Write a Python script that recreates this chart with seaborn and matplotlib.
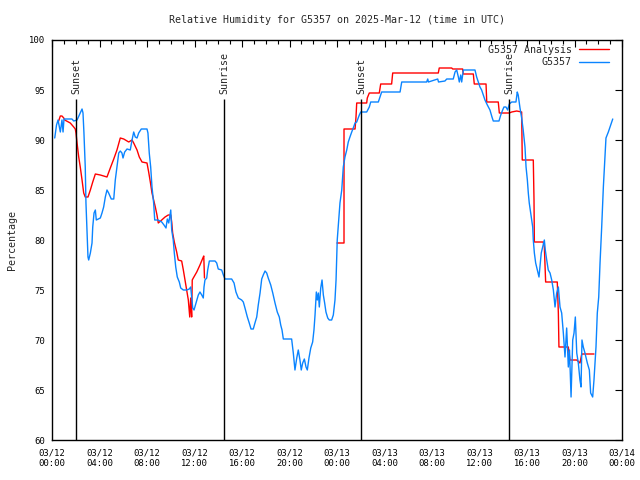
import numpy as np
import pandas as pd
import matplotlib
matplotlib.use("Agg")
import matplotlib.pyplot as plt
import seaborn as sns
from matplotlib.ticker import MultipleLocator

# --- данные (часы от 03/12 00:00 UTC, % влажности) ---
obs_hours = [0.23, 0.38, 0.51, 0.70, 0.84, 0.93, 1.01, 1.68, 1.83, 2.11, 2.38, 2.53, 2.61, 2.69,
             2.80, 2.86, 2.95, 3.03, 3.09, 3.23, 3.37, 3.43, 3.54, 3.65, 3.73, 4.07, 4.21, 4.35,
             4.49, 4.63, 4.77, 4.99, 5.20, 5.33, 5.47, 5.62, 5.75, 5.89, 5.98, 6.12, 6.32, 6.59,
             6.74, 6.88, 7.01, 7.16, 7.30, 7.52, 8.00, 8.08, 8.19, 8.31, 8.42, 8.56, 8.65, 8.93,
             9.24, 9.43, 9.60, 9.71, 9.83, 10.00, 10.08, 10.21, 10.30, 10.42, 10.55, 10.72, 10.84,
             11.06, 11.34, 11.56, 11.68, 11.76, 11.85, 11.96, 12.13, 12.32, 12.46, 12.61, 12.74,
             12.80, 12.88, 13.03, 13.11, 13.25, 13.73, 13.87, 14.00, 14.29, 14.43, 14.57, 15.13,
             15.33, 15.49, 15.69, 15.97, 16.11, 16.25, 16.45, 16.61, 16.76, 16.95, 17.09, 17.24,
             17.37, 17.52, 17.66, 17.79, 17.94, 18.08, 18.21, 18.42, 18.59, 18.78, 18.97, 19.14,
             19.26, 19.37, 19.48, 20.18, 20.32, 20.46, 20.61, 20.74, 20.88, 20.99, 21.11, 21.25,
             21.39, 21.50, 21.64, 21.79, 21.95, 22.06, 22.15, 22.26, 22.34, 22.43, 22.51, 22.63,
             22.74, 22.85, 22.96, 23.07, 23.22, 23.35, 23.55, 23.69, 23.83, 23.92, 23.97, 24.02,
             24.14, 24.25, 24.40, 24.53, 24.67, 24.82, 24.95, 25.09, 25.24, 25.37, 25.52, 25.66,
             25.88, 26.00, 26.50, 26.72, 26.84, 27.48, 27.62, 27.76, 29.31, 29.45, 31.55, 31.64,
             31.70, 32.48, 32.55, 33.09, 33.24, 33.79, 33.94, 34.08, 34.22, 34.30, 34.42, 34.50,
             34.64, 35.62, 35.76, 35.90, 36.04, 36.18, 36.32, 36.46, 36.66, 36.88, 37.05, 37.16,
             37.64, 37.79, 37.95, 38.06, 38.23, 38.37, 38.51, 38.71, 39.07, 39.18, 39.26, 39.41,
             39.55, 39.68, 39.83, 39.92, 40.03, 40.11, 40.19, 40.31, 40.40, 40.48, 40.53, 40.62,
             40.73, 40.87, 41.01, 41.09, 41.20, 41.32, 41.46, 41.54, 41.66, 41.79, 41.94, 42.08,
             42.22, 42.36, 42.50, 42.64, 42.78, 42.92, 43.06, 43.20, 43.34, 43.48, 43.58, 43.71,
             43.85, 43.96, 44.07, 44.19, 44.32, 44.46, 44.55, 44.63, 44.74, 44.88, 45.08, 45.25,
             45.36, 45.53, 45.64, 45.73, 45.81, 45.92, 46.04, 46.15, 46.29, 46.43, 46.57, 46.65,
             46.85, 46.99, 47.22]
obs_rh = [90.2, 91.5, 92.0, 90.8, 92.0, 90.8, 92.1, 92.1, 91.9, 92.0, 92.7, 93.1, 92.7, 90.7,
          87.3, 83.7, 80.7, 78.3, 78.0, 78.7, 79.7, 81.3, 82.7, 83.0, 82.0, 82.2, 82.7, 83.3,
          84.3, 85.0, 84.7, 84.1, 84.1, 86.0, 87.3, 88.7, 88.9, 88.7, 88.2, 88.8, 89.1, 89.0,
          90.0, 90.8, 90.3, 90.2, 90.7, 91.1, 91.1, 90.7, 88.7, 87.3, 85.3, 83.7, 82.0, 82.0,
          81.8, 81.5, 81.2, 82.1, 81.7, 83.0, 81.0, 80.0, 78.7, 77.3, 76.3, 75.8, 75.2,
          75.0, 75.0, 75.1, 75.3, 74.3, 73.2, 73.0, 73.7, 74.5, 74.8, 74.5, 74.2,
          75.3, 76.0, 76.2, 77.0, 77.9, 77.9, 77.7, 77.1, 77.0, 76.5, 76.1, 76.1,
          75.7, 74.8, 74.2, 74.0, 73.8, 73.2, 72.3, 71.7, 71.1, 71.1, 71.7, 72.3,
          73.5, 74.7, 76.1, 76.5, 76.9, 76.7, 76.2, 75.5, 74.7, 73.7, 72.8, 72.3,
          71.5, 71.0, 70.1, 70.1, 68.7, 67.0, 68.2, 69.0, 68.0, 67.0, 67.7, 68.1,
          67.3, 67.0, 68.2, 69.2, 69.8, 71.0, 72.5, 74.8, 74.0, 74.7, 73.3, 75.2,
          76.0, 74.5, 73.7, 72.8, 72.2, 72.0, 72.0, 72.5, 74.0, 76.0, 78.0, 80.0,
          82.0, 83.7, 85.0, 87.3, 88.3, 89.0, 89.8, 90.3, 90.8, 91.2, 91.7, 91.8,
          92.5, 92.8, 92.8, 93.3, 93.8, 93.8, 94.3, 94.8, 94.8, 95.8, 95.8, 96.1,
          95.8, 96.1, 95.8, 95.9, 96.1, 96.1, 96.8, 97.0, 96.3, 95.8, 96.5, 95.8,
          97.0, 97.0, 96.3, 95.8, 95.3, 95.0, 94.5, 94.0, 93.5, 93.0, 92.3, 91.9,
          91.9, 92.5, 93.0, 93.3, 93.3, 93.0, 93.6, 93.8, 93.8, 94.8, 94.5, 93.2,
          92.2, 91.0, 89.3, 87.3, 86.0, 84.7, 83.7, 82.7, 82.0, 81.3, 80.0, 78.7,
          77.7, 77.0, 76.3, 77.3, 78.7, 79.3, 80.0, 79.0, 78.0, 77.0, 76.7, 76.0,
          75.0, 73.3, 74.7, 75.3, 73.3, 72.7, 70.7, 68.3, 71.2, 67.3, 69.0, 64.3,
          70.0, 70.7, 72.3, 68.7, 67.7, 66.0, 65.3, 70.0, 69.3, 68.7, 67.7, 67.0,
          64.7, 64.3, 66.0, 67.7, 69.3, 72.7, 74.3, 77.7, 81.3, 85.3, 88.3, 90.2,
          90.8, 91.3, 92.1]

# анализ: два куска (разрыв между ними)
ana_hours_1 = [0.56, 0.70, 0.84, 0.99, 1.07, 1.54, 1.83, 1.96, 2.02, 2.11, 2.25, 2.38, 2.53, 2.67,
               2.80, 3.03, 3.23, 3.43, 3.65, 4.07, 4.63, 4.91, 5.20, 5.47, 5.75, 6.04, 6.46, 6.74,
               6.88, 7.16, 7.35, 7.58, 8.00, 8.14, 8.28, 8.42, 8.56, 8.70, 8.84, 8.95, 9.24, 9.52,
               9.79, 10.00, 10.08, 10.16, 10.30, 10.50, 10.63, 10.92, 11.06, 11.20, 11.34, 11.48,
               11.60, 11.68, 11.76, 11.81, 11.90, 12.19, 12.46, 12.74, 12.78, 12.84]
ana_rh_1 = [91.9, 92.4, 92.4, 92.2, 92.0, 91.7, 91.3, 91.1, 90.7, 89.7, 88.3, 87.3, 86.0, 84.7,
            84.3, 84.3, 85.0, 85.8, 86.6, 86.5, 86.3, 87.2, 88.1, 89.0, 90.2, 90.1, 89.8, 90.0,
            89.7, 89.0, 88.3, 87.8, 87.7, 86.8, 85.8, 84.7, 84.0, 83.3, 82.5, 81.7, 82.0, 82.3,
            82.5, 82.5, 81.8, 80.7, 79.8, 78.8, 78.0, 77.9, 77.0, 76.0, 75.0, 74.0,
            72.3, 74.2, 72.3, 76.0, 76.2, 76.8, 77.5, 78.3, 78.4, 76.2]
ana_hours_2 = [24.00, 24.59, 24.59, 25.52, 25.60, 25.66, 26.50, 26.55, 26.72, 27.56, 27.68, 28.60,
               28.69, 32.53, 32.61, 33.66, 33.74, 34.58, 34.63, 35.48, 35.56, 36.55, 36.61, 37.58,
               37.67, 38.51, 38.71, 39.13, 39.55, 39.60, 40.53, 40.59, 40.62, 41.37, 41.46, 41.57,
               42.55, 42.64, 42.69, 43.48, 43.62, 44.19, 44.46, 44.61, 45.64]
ana_rh_2 = [79.7, 79.7, 91.1, 91.1, 92.3, 93.7, 93.7, 94.2, 94.7, 94.7, 95.6, 95.6,
            96.7, 96.7, 97.2, 97.2, 97.1, 97.1, 96.6, 96.6, 95.6, 95.6, 93.8, 93.8,
            92.7, 92.7, 92.8, 92.9, 92.8, 88.0, 88.0, 84.0, 79.8, 79.8, 79.3, 75.8,
            75.8, 72.7, 69.3, 69.3, 68.0, 68.0, 67.7, 68.6, 68.6]

event_hours = [2.03, 14.49, 26.02, 38.51]
event_names = ["Sunset", "Sunrise", "Sunset", "Sunrise"]

tick_hours = list(range(0, 49, 4))
tick_labels = ["03/12\n00:00", "03/12\n04:00", "03/12\n08:00", "03/12\n12:00", "03/12\n16:00",
               "03/12\n20:00", "03/13\n00:00", "03/13\n04:00", "03/13\n08:00", "03/13\n12:00",
               "03/13\n16:00", "03/13\n20:00", "03/14\n00:00"]

# --- сборка таблицы ---
df = pd.concat([
    pd.DataFrame({"hour": ana_hours_1, "rh": ana_rh_1, "series": "G5357 Analysis", "seg": 1}),
    pd.DataFrame({"hour": ana_hours_2, "rh": ana_rh_2, "series": "G5357 Analysis", "seg": 2}),
    pd.DataFrame({"hour": obs_hours, "rh": obs_rh, "series": "G5357", "seg": 3}),
], ignore_index=True)

sns.set_theme(style="white")
plt.rcParams['font.family'] = ['DejaVu Sans Mono', 'DejaVu Sans']

fig = plt.figure(figsize=(6.4, 4.8), dpi=100)
ax = fig.add_axes([52 / 640, 40 / 480, 570 / 640, 400 / 480])

sns.lineplot(data=df, x="hour", y="rh", hue="series", units="seg", estimator=None,
             sort=False, palette={"G5357 Analysis": "#ff0000", "G5357": "#0a84ff"},
             hue_order=["G5357 Analysis", "G5357"], linewidth=1.0, ax=ax)

# восход/закат
for t, name in zip(event_hours, event_names):
    ax.vlines(t, 60, 94.1, color="black", linewidth=1.0)
    ax.text(t, 94.6, name, rotation=90, ha="center", va="bottom", fontsize=7.2)

ax.set_xlim(0, 48)
ax.set_ylim(60, 100)
ax.set_xticks(tick_hours)
ax.set_xticklabels(tick_labels)
ax.xaxis.set_minor_locator(MultipleLocator(1))
ax.set_yticks(range(60, 101, 5))
ax.tick_params(which="both", direction="in", top=True, right=True, colors="black",
               labelsize=6.4, width=0.8)
ax.tick_params(which="major", length=5)
ax.tick_params(which="minor", length=3)
ax.tick_params(axis="x", pad=6)
ax.tick_params(axis="y", pad=5)
for sp in ax.spines.values():
    sp.set_color("black")
    sp.set_linewidth(1.0)

ax.set_xlabel("")
ax.set_ylabel("Percentage", fontsize=7.2)
ax.yaxis.set_label_coords(-0.062, 0.5)
ax.set_title("Relative Humidity for G5357 on 2025-Mar-12 (time in UTC)", fontsize=7.2, pad=12)

handles, labels = ax.get_legend_handles_labels()
ax.legend(handles, labels, loc="upper right", bbox_to_anchor=(1 - 5 / 570, 1 + 3 / 400),
          frameon=False, markerfirst=False, fontsize=7.2,
          handlelength=3.0, handletextpad=0.7, labelspacing=0.25, borderaxespad=0.5,
          borderpad=0.3)

plt.savefig("out.png", dpi=100)
plt.close()
